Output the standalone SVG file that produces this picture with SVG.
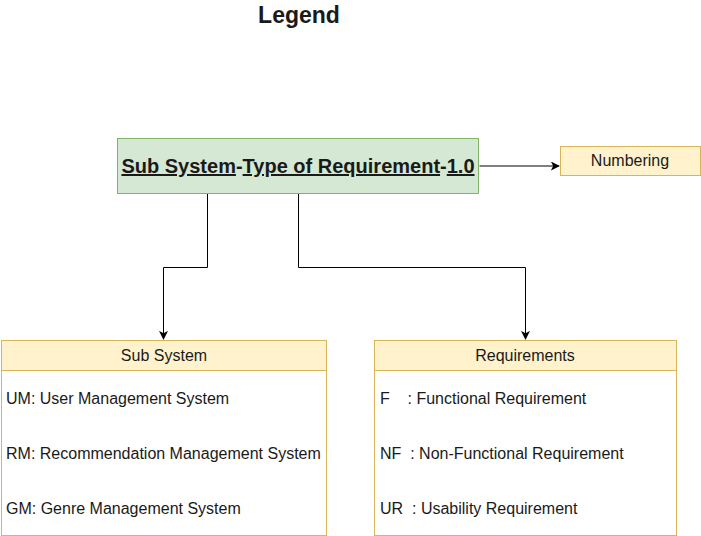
<svg xmlns="http://www.w3.org/2000/svg" width="701" height="536" viewBox="0 0 701 536">
<defs>
<marker id="arr" viewBox="0 0 10 10" refX="9" refY="5" markerWidth="9" markerHeight="9" markerUnits="userSpaceOnUse" orient="auto">
<path d="M0,0 L10,5 L0,10 L2.5,5 Z" fill="#000"/>
</marker>
</defs>
<style>
text{font-family:"Liberation Sans",Arial,sans-serif;fill:#1a1a1a}
.t{font-size:16px}
.u{text-decoration:underline}
.yel{fill:#fff2cc;stroke:#d6b656;stroke-width:1}
.body{fill:#fff;stroke:#d6b656;stroke-width:1}
.con{fill:none;stroke:#000;stroke-width:1}
</style>
<rect width="701" height="536" fill="#fff"/>
<text x="299" y="23" font-size="23" font-weight="bold" text-anchor="middle" fill="#000">Legend</text>
<g id="connectors">
<path class="con" d="M479.5,166 H559" marker-end="url(#arr)"/>
<path class="con" d="M207.5,193 V267.5 H163.5 V339" marker-end="url(#arr)"/>
<path class="con" d="M298.5,193 V267.5 H525.5 V339" marker-end="url(#arr)"/>
</g>
<g id="main">
<rect x="117.5" y="138.5" width="361" height="55" fill="#d5e8d4" stroke="#82b366"/>
<text x="298" y="173" font-size="20" font-weight="bold" text-anchor="middle"><tspan class="u">Sub System</tspan>-<tspan class="u">Type of Requirement</tspan>-<tspan class="u">1.0</tspan></text>
</g>
<g id="numbering">
<rect class="yel" x="560.5" y="146.5" width="140" height="29"/>
<text class="t" x="630" y="166" text-anchor="middle">Numbering</text>
</g>
<g id="subsystem">
<rect class="body" x="1.5" y="340.5" width="325" height="195"/>
<rect class="yel" x="1.5" y="340.5" width="325" height="30"/>
<text class="t" x="164" y="361" text-anchor="middle">Sub System</text>
<text class="t" x="6" y="404">UM: User Management System</text>
<text class="t" x="6" y="459">RM: Recommendation Management System</text>
<text class="t" x="6" y="514">GM: Genre Management System</text>
</g>
<g id="requirements">
<rect class="body" x="374.5" y="340.5" width="302" height="195"/>
<rect class="yel" x="374.5" y="340.5" width="302" height="30"/>
<text class="t" x="525" y="361" text-anchor="middle">Requirements</text>
<text class="t" x="380" y="404" xml:space="preserve">F    : Functional Requirement</text>
<text class="t" x="380" y="459" xml:space="preserve">NF  : Non-Functional Requirement</text>
<text class="t" x="380" y="514" xml:space="preserve">UR  : Usability Requirement</text>
</g>
</svg>
